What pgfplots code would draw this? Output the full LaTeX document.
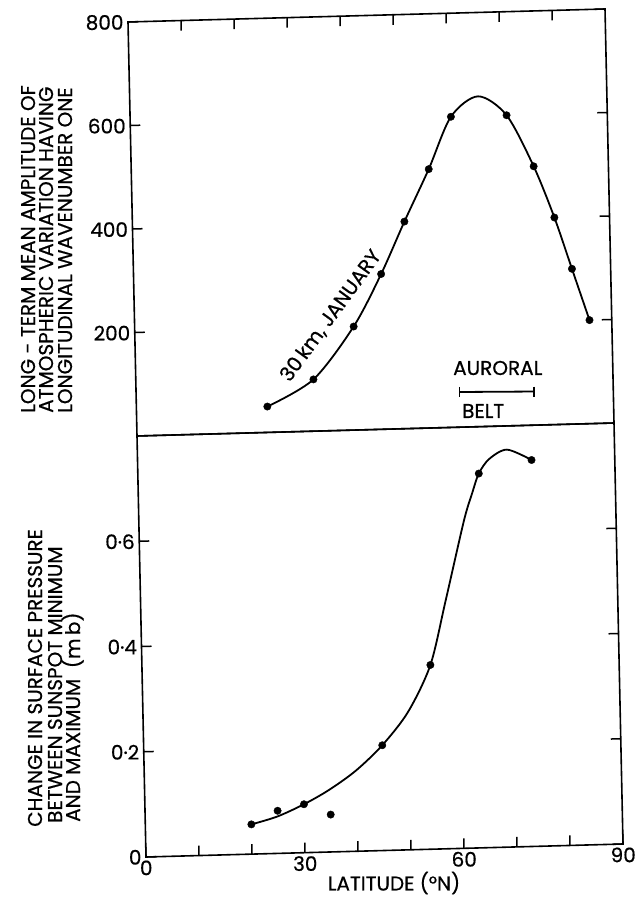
\documentclass[border=0pt]{standalone}
\usepackage{fontspec}
\setmainfont{Poppins}[FakeBold=0.6]
\usepackage{pgfplots}
\pgfplotsset{compat=1.18}
\newcommand\fs{\fontsize{20}{22}\selectfont}
\begin{document}
\begin{tikzpicture}
\path[use as bounding box] (0pt,0pt) rectangle (640pt,904pt);
\pgfplotsset{
  panel/.style={
    anchor=origin,
    x={(5.3pt,0.1444pt)},
    xmin=0, xmax=90, clip=false,
    tick align=inside, major tick length=10pt,
    axis line style={line width=1.6pt},
    every tick/.style={line width=1.5pt, black},
    ticklabel style={font=\fs},
    ytick pos=both, yticklabel pos=left,
    yticklabel style={xshift=-1pt},
  },
  curve/.style={black, line width=1.8pt, smooth, no marks},
  dots/.style={black, only marks, mark=*, mark size=3.7pt},
}
% ---------- upper panel ----------
\begin{axis}[panel, at={(137pt,468pt)}, y={(-0.01125pt,0.5175pt)},
  ymin=0, ymax=800,
  xtick={10,20,...,80}, xtick pos=right, xticklabel=\empty,
  ytick={200,400,600,800}, yticklabels={200,400,600,800}]
\addplot[curve] coordinates {
 (24.7,50) (33.5,100) (41.3,200) (46.7,300) (51.3,400) (56.1,500)
 (60.5,600) (65.7,638) (71,600) (75.9,500) (79.6,400) (82.7,300) (85.8,200)};
\addplot[dots] coordinates {
 (24.7,50) (33.5,100) (41.3,200) (46.7,300) (51.3,400) (56.1,500)
 (60.5,600) (71,600) (75.9,500) (79.6,400) (82.7,300) (85.8,200)};
\addplot[black, line width=1.8pt, mark=|, mark size=5pt,
  mark options={line width=1.6pt}] coordinates {(61,68) (75,65)};
\end{axis}
% ---------- lower panel ----------
\begin{axis}[panel, at={(146pt,47pt)}, y={(-11.25pt,526.25pt)},
  ymin=0, ymax=0.8,
  xtick={0,10,...,90}, xtick pos=left,
  xticklabels={0,,,30,,,60,,,90},
  ytick={0,0.2,0.4,0.6}, yticklabels={0,0·2,0·4,0·6}]
\addplot[curve] coordinates {
 (20,0.0565) (24.9,0.07) (30,0.092) (34.8,0.118) (39.9,0.153) (45,0.2)
 (50,0.262) (54.4,0.35) (57.5,0.47) (61.3,0.622) (63,0.675) (64.3,0.711)
 (66.3,0.738) (69.7,0.755) (74.3,0.734)};
\addplot[dots] coordinates {
 (20,0.0565) (25,0.081) (30,0.092) (35,0.071) (45,0.2) (54.4,0.35)
 (64.3,0.711) (74.3,0.734)};
\end{axis}
% ---------- texts ----------
\node[font=\fs, rotate=54, inner sep=0pt] at (331pt,588pt) {30\,km, JANUARY};
\node[font=\fs, anchor=west, inner sep=0pt] at (453pt,536pt) {AURORAL};
\node[font=\fs, anchor=west, inner sep=0pt] at (462pt,493pt) {BELT};
\node[font=\fs, rotate=90, anchor=base west, inner sep=0pt] at (35pt,491pt) {LONG - TERM MEAN AMPLITUDE OF};
\node[font=\fs, rotate=90, anchor=base west, inner sep=0pt] at (53pt,491pt) {ATMOSPHERIC VARIATION HAVING};
\node[font=\fs, rotate=90, anchor=base west, inner sep=0pt] at (72pt,491pt) {LONGITUDINAL WAVENUMBER ONE};
\node[font=\fs, rotate=90, anchor=base west, inner sep=0pt] at (42pt,77pt) {CHANGE IN SURFACE PRESSURE};
\node[font=\fs, rotate=90, anchor=base west, inner sep=0pt] at (62pt,81pt) {BETWEEN SUNSPOT MINIMUM};
\node[font=\fs, rotate=90, anchor=base west, inner sep=0pt] at (80pt,82pt) {AND MAXIMUM\ \ (m\,b)};
\node[font=\fs] at (394pt,21pt) {LATITUDE (°N)};
\end{tikzpicture}
\end{document}
